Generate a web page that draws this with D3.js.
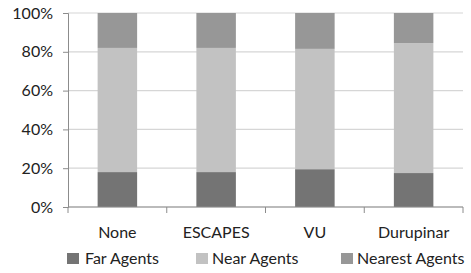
<!DOCTYPE html>
<html>
<head>
<meta charset="utf-8">
<script src="https://cdn.jsdelivr.net/npm/d3@7"></script>
<style>
  body { margin: 0; background: #fff; }
  svg { display: block; font-family: Lato, "Open Sans", sans-serif; }
  .tick text { fill: #222; }
</style>
</head>
<body>
<div id="chart"></div>
<script>
// Dados
const categorias = ["None", "ESCAPES", "VU", "Durupinar"];
const farAgents = [18, 18, 19.5, 17.5];
const nearAgents = [64, 64, 62, 67];
const nearestAgents = [18, 18, 18.5, 15.5];
const series = ["Far Agents", "Near Agents", "Nearest Agents"];
const yTicks = [0, 20, 40, 60, 80, 100];

const cores = { "Far Agents": "#747474", "Near Agents": "#c2c2c2", "Nearest Agents": "#979797" };

const width = 471, height = 273;
const margin = { top: 13, right: 8, bottom: 66, left: 68 };
const fonte = 16;

const svg = d3.select("#chart").append("svg")
  .attr("width", width)
  .attr("height", height);

const x = d3.scaleBand()
  .domain(categorias)
  .range([margin.left, width - margin.right])
  .paddingInner(0.6)
  .paddingOuter(0.3);

const y = d3.scaleLinear()
  .domain([0, 100])
  .range([height - margin.bottom, margin.top]);

// Grade
svg.append("g")
  .selectAll("line")
  .data(yTicks)
  .enter().append("line")
  .attr("x1", margin.left)
  .attr("x2", width - margin.right)
  .attr("y1", d => y(d))
  .attr("y2", d => y(d))
  .attr("stroke", "#d6d6d6")
  .attr("stroke-width", 1.2);

// Empilhar
const tabela = categorias.map((c, i) => ({
  cat: c,
  "Far Agents": farAgents[i],
  "Near Agents": nearAgents[i],
  "Nearest Agents": nearestAgents[i]
}));
const stack = d3.stack().keys(series)(tabela);

svg.append("g")
  .selectAll("g")
  .data(stack)
  .enter().append("g")
  .attr("fill", d => cores[d.key])
  .selectAll("rect")
  .data(d => d)
  .enter().append("rect")
  .attr("x", d => x(d.data.cat))
  .attr("width", x.bandwidth())
  .attr("y", d => y(d[1]))
  .attr("height", d => y(d[0]) - y(d[1]));

// Eixo Y
const yAxis = svg.append("g")
  .attr("transform", `translate(${margin.left},0)`)
  .call(d3.axisLeft(y).tickValues(yTicks).tickFormat(d => d + "%").tickSize(5).tickPadding(10));
yAxis.selectAll("text").attr("font-size", fonte).attr("font-family", "Lato, sans-serif");
yAxis.selectAll("line, path").attr("stroke", "#8c8c8c");

// Eixo X com marcas nos limites das categorias
const step = x.step();
const limites = d3.range(categorias.length + 1).map(i => margin.left + i * step);
const xAxis = svg.append("g");
xAxis.append("line")
  .attr("x1", margin.left).attr("x2", width - margin.right)
  .attr("y1", y(0)).attr("y2", y(0))
  .attr("stroke", "#8c8c8c");
xAxis.selectAll(".xt")
  .data(limites)
  .enter().append("line")
  .attr("class", "xt")
  .attr("x1", d => d).attr("x2", d => d)
  .attr("y1", y(0)).attr("y2", y(0) + 6)
  .attr("stroke", "#8c8c8c");
xAxis.selectAll("text")
  .data(categorias)
  .enter().append("text")
  .attr("x", d => x(d) + x.bandwidth() / 2)
  .attr("y", y(0) + 31)
  .attr("text-anchor", "middle")
  .attr("font-size", fonte)
  .attr("fill", "#222")
  .text(d => d);

// Legenda
const legendaX = [67, 196, 341];
const legenda = svg.append("g")
  .selectAll("g")
  .data(series)
  .enter().append("g")
  .attr("transform", (d, i) => `translate(${legendaX[i]},253)`);
legenda.append("rect")
  .attr("width", 12).attr("height", 11)
  .attr("fill", d => cores[d]);
legenda.append("text")
  .attr("x", d => d === "Far Agents" ? 18 : 16)
  .attr("y", 11)
  .attr("font-size", fonte)
  .attr("fill", "#222")
  .text(d => d);
</script>
</body>
</html>
